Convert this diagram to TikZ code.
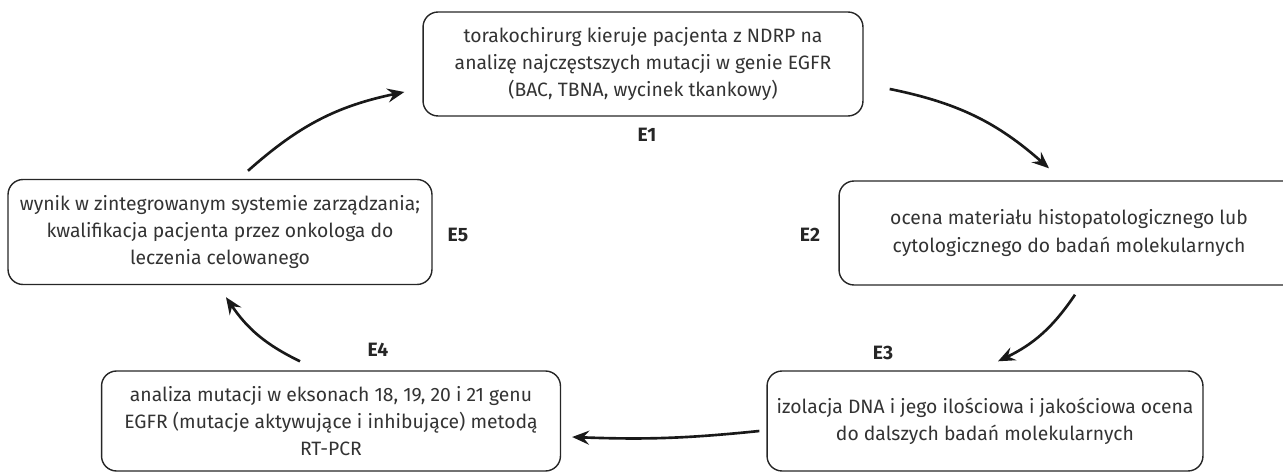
\documentclass[tikz,border=0pt]{standalone}
\usepackage{fontspec}
\setmainfont{Fira Sans}
\usetikzlibrary{arrows.meta,calc}
\definecolor{txtgray}{HTML}{333333}

\begin{document}
\begin{tikzpicture}[x=0.02cm,y=-0.02cm,
        box/.style={draw=black!85,line width=0.8pt,rounded corners=0.3cm,align=center,
            text=txtgray,font=\fontsize{11}{15.4}\selectfont},
        lbl/.style={font=\bfseries\fontsize{11}{12}\selectfont,text=black!85},
        arr/.style={-{Stealth[length=3.4mm,width=2.8mm,inset=1.2mm]},line width=1.5pt,black!90}]

        \useasboundingbox (0,0) rectangle (1283,472);

        % steps
        \node[box,minimum width=8.8cm,minimum height=2.08cm] (e1) at (643,64)
            {torakochirurg kieruje pacjenta z NDRP na\\analizę najczęstszych mutacji w genie EGFR\\(BAC, TBNA, wycinek tkankowy)};
        \node[box,minimum width=9.2cm,minimum height=2.08cm] (e2) at (1069,233)
            {ocena materiału histopatologicznego lub\\cytologicznego do badań molekularnych};
        \node[box,minimum width=8.72cm,minimum height=2.0cm] (e3) at (985,421)
            {izolacja DNA i jego ilościowa i jakościowa ocena\\do dalszych badań molekularnych};
        \node[box,minimum width=9.18cm,minimum height=2.0cm] (e4) at (331,421)
            {analiza mutacji w eksonach 18, 19, 20 i 21 genu\\EGFR (mutacje aktywujące i inhibujące) metodą\\RT-PCR};
        \node[box,minimum width=8.48cm,minimum height=2.1cm] (e5) at (220,232)
            {wynik w zintegrowanym systemie zarządzania;\\kwalifikacja pacjenta przez onkologa do\\leczenia celowanego};

        % labels
        \node[lbl] (l1) at (647,135) {E1};
        \node[lbl] (l2) at (810,235) {E2};
        \node[lbl] (l3) at (883,353) {E3};
        \node[lbl] (l4) at (378,350) {E4};
        \node[lbl] (l5) at (458,235) {E5};

        % cycle arrows
        \draw[arr] ($(e5.north)+(28,-8)$) to[bend left=15] ($(e1.west)+(-18,28)$);
        \draw[arr] ($(e1.east)+(26,25)$) to[bend left=15] ($(e2.north)+(-20,-12)$);
        \draw[arr] ($(e2.south)+(6,9)$) to[bend left=15] ($(e3.north)+(13,-9)$);
        \draw[arr] ($(e3.west)+(-7,10)$) to[bend left=4] ($(e4.east)+(11,16)$);
        \draw[arr] ($(e4.north)+(-31,-9)$) to[bend left=15] ($(e5.south)+(6,12)$);

\end{tikzpicture}
\end{document}
